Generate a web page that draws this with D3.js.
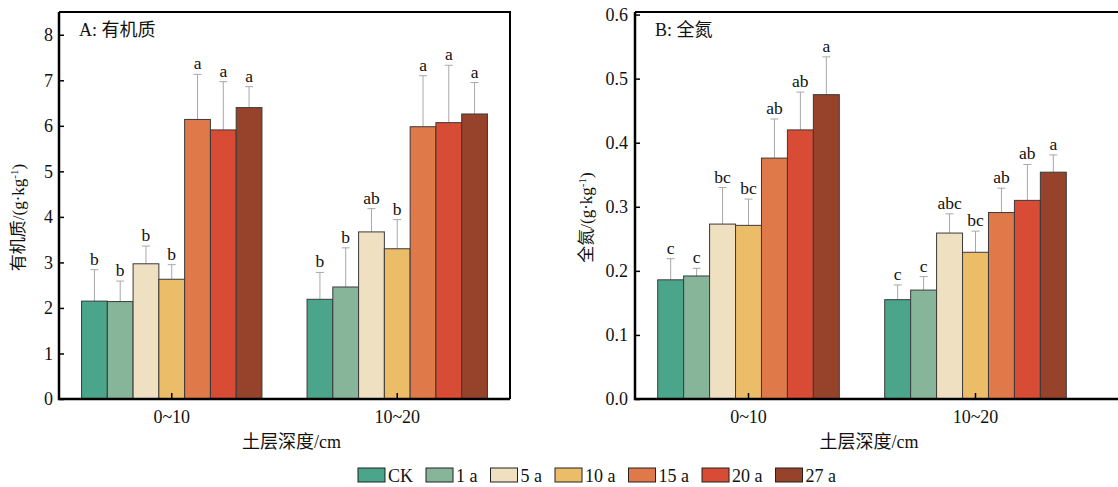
<!DOCTYPE html>
<html>
<head>
<meta charset="utf-8">
<script src="https://cdn.jsdelivr.net/npm/d3@7"></script>
<style>
  body { margin: 0; background: #fff; }
  svg text { font-family: "Liberation Serif", "Noto Sans CJK SC", serif; fill: #111; }
</style>
</head>
<body>
<div id="chart"></div>
<script>
// categories
const depths = ["0~10", "10~20"];
const years = ["CK", "1 a", "5 a", "10 a", "15 a", "20 a", "27 a"];
const colors = ["#4ba58a", "#87b59a", "#f0e0c2", "#ecbd68", "#e0794a", "#d84c35", "#97432b"];

// A: organic matter (g/kg), one row per depth
const somMean = [
  [2.15, 2.14, 2.97, 2.63, 6.14, 5.91, 6.40],
  [2.19, 2.46, 3.67, 3.30, 5.98, 6.07, 6.26]
];
const somErr = [
  [0.69, 0.45, 0.39, 0.32, 0.99, 1.06, 0.46],
  [0.59, 0.86, 0.51, 0.64, 1.12, 1.26, 0.69]
];
const somLetters = [
  ["b", "b", "b", "b", "a", "a", "a"],
  ["b", "b", "ab", "b", "a", "a", "a"]
];
const somTicks = [0, 1, 2, 3, 4, 5, 6, 7, 8];

// B: total nitrogen (g/kg)
const tnMean = [
  [0.186, 0.192, 0.273, 0.271, 0.376, 0.420, 0.475],
  [0.155, 0.170, 0.259, 0.229, 0.291, 0.310, 0.354]
];
const tnErr = [
  [0.033, 0.012, 0.057, 0.041, 0.061, 0.059, 0.059],
  [0.023, 0.021, 0.030, 0.033, 0.038, 0.056, 0.027]
];
const tnLetters = [
  ["c", "c", "bc", "bc", "ab", "ab", "a"],
  ["c", "c", "abc", "bc", "ab", "ab", "a"]
];
const tnTicks = [0, 0.1, 0.2, 0.3, 0.4, 0.5, 0.6];

const width = 1118, height = 487;
const plotTop = 12, plotBottom = 399;

const svg = d3.select("#chart").append("svg")
  .attr("width", width)
  .attr("height", height);

function drawPanel(p) {
  const g = svg.append("g");

  const x0 = d3.scaleBand().domain(depths).range([p.left, p.right])
    .paddingInner(0.2).paddingOuter(0.1);
  const x1 = d3.scaleBand().domain(years).range([0, x0.bandwidth()]);
  const y = d3.scaleLinear().domain([0, p.yMax]).range([plotBottom, plotTop]);

  // frame (top and right)
  g.append("path")
    .attr("d", `M${p.left},${plotTop}H${p.frameRight}V${plotBottom}`)
    .attr("fill", "none").attr("stroke", "#000").attr("stroke-width", 2);

  // bars
  depths.forEach((d, i) => {
    const grp = g.append("g").attr("transform", `translate(${x0(d)},0)`);
    years.forEach((yr, j) => {
      const v = p.mean[i][j], e = p.err[i][j];
      const cx = x1(yr) + x1.bandwidth() / 2;
      grp.append("line")
        .attr("x1", cx).attr("x2", cx)
        .attr("y1", y(v)).attr("y2", y(v + e))
        .attr("stroke", "#a8a8a8").attr("stroke-width", 1);
      grp.append("line")
        .attr("x1", cx - 4).attr("x2", cx + 4)
        .attr("y1", y(v + e)).attr("y2", y(v + e))
        .attr("stroke", "#a8a8a8").attr("stroke-width", 1);
      grp.append("rect")
        .attr("x", x1(yr)).attr("y", y(v))
        .attr("width", x1.bandwidth()).attr("height", y(0) - y(v))
        .attr("fill", colors[j]).attr("stroke", "#3a3a3a").attr("stroke-width", 1);
      grp.append("text")
        .attr("x", cx).attr("y", y(v + e) - 5)
        .attr("text-anchor", "middle")
        .attr("font-size", 17.5)
        .text(p.letters[i][j]);
    });
  });

  // y axis
  const yAxis = g.append("g")
    .attr("transform", `translate(${p.left},0)`)
    .call(d3.axisLeft(y).tickValues(p.ticks).tickFormat(p.fmt)
      .tickSize(-5).tickPadding(p.tickPad));
  yAxis.select(".domain").remove();
  yAxis.selectAll("line").attr("stroke", "#000").attr("stroke-width", 1.5);
  yAxis.selectAll("text").attr("font-size", 18).attr("font-family", null);

  // x axis
  const xAxis = g.append("g")
    .attr("transform", `translate(0,${plotBottom})`)
    .call(d3.axisBottom(x0).tickSize(-6).tickPadding(11));
  xAxis.select(".domain").remove();
  xAxis.selectAll("line").attr("stroke", "#000").attr("stroke-width", 1.5);
  xAxis.selectAll("text").attr("font-size", 18).attr("font-family", null);

  // axis lines (thicker)
  g.append("path")
    .attr("d", `M${p.left},${plotTop}V${plotBottom}H${p.frameRight}`)
    .attr("fill", "none").attr("stroke", "#000").attr("stroke-width", 2.5);

  // panel label
  g.append("text")
    .attr("x", p.left + 20).attr("y", 36)
    .attr("font-size", 18)
    .text(p.label);

  // x title
  g.append("text")
    .attr("x", (p.left + p.right) / 2 + 7).attr("y", 448)
    .attr("text-anchor", "middle")
    .attr("font-size", 18)
    .text("土层深度/cm");

  // y title
  const yt = g.append("text")
    .attr("transform", `translate(${p.titleX},${(plotTop + plotBottom) / 2 + 12}) rotate(-90)`)
    .attr("text-anchor", "middle")
    .attr("font-size", 17);
  yt.append("tspan").text(p.yTitle + "/(g·kg");
  yt.append("tspan").attr("font-size", 11).attr("baseline-shift", "super").text("-1");
  yt.append("tspan").text(")");
}

drawPanel({
  left: 59, right: 510, frameRight: 510, yMax: 8.5,
  mean: somMean, err: somErr, letters: somLetters, ticks: somTicks,
  fmt: d3.format("d"), tickPad: 6, label: "A: 有机质",
  yTitle: "有机质", titleX: 24
});

drawPanel({
  left: 635, right: 1089, frameRight: 1140, yMax: 0.604,
  mean: tnMean, err: tnErr, letters: tnLetters, ticks: tnTicks,
  fmt: d3.format(".1f"), tickPad: 7, label: "B: 全氮",
  yTitle: "全氮", titleX: 592
});

// legend
const legend = svg.append("g");
let lx = 0;
years.forEach((yr, j) => {
  const item = legend.append("g").attr("transform", `translate(${lx},0)`);
  item.append("rect")
    .attr("x", 0).attr("y", 468).attr("width", 27).attr("height", 14)
    .attr("fill", colors[j]).attr("stroke", "#222").attr("stroke-width", 1);
  const t = item.append("text")
    .attr("x", 30).attr("y", 482)
    .attr("font-size", 18)
    .text(yr);
  lx += 30 + t.node().getComputedTextLength() + 13;
});
const legW = lx - 13;
legend.attr("transform", `translate(${597 - legW / 2},0)`);
</script>
</body>
</html>
